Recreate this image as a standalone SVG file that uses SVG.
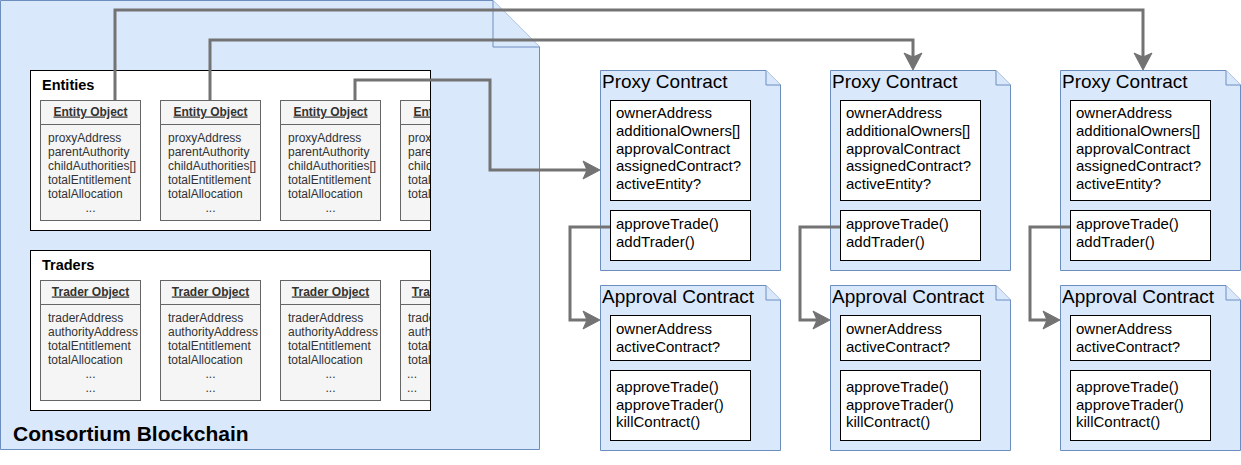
<svg xmlns="http://www.w3.org/2000/svg" width="1241" height="465" viewBox="0 0 1241 465">
<style>
.blue{fill:#dae8fc;stroke:#6c8ebf;stroke-width:1}
.wbox{fill:#ffffff;stroke:#000000;stroke-width:1}
.obj{fill:#f5f5f5;stroke:#666666;stroke-width:1}
.hl{stroke:#666666;stroke-width:1;fill:none}
.t{font-family:"Liberation Sans",Arial,sans-serif;fill:#000000}
.ot{font-family:"Liberation Sans",Arial,sans-serif;fill:#333333;font-size:12px}
.oh{font-family:"Liberation Sans",Arial,sans-serif;fill:#333333;font-size:12px;font-weight:bold;text-decoration:underline;text-anchor:middle}
.grp{font-family:"Liberation Sans",Arial,sans-serif;font-size:14.5px;font-weight:bold;fill:#000}
.ttl{font-family:"Liberation Sans",Arial,sans-serif;font-size:19px;fill:#000}
.ct{font-family:"Liberation Sans",Arial,sans-serif;font-size:15px;fill:#000}
.mid{text-anchor:middle}
.conn{fill:none;stroke:#737373;stroke-width:3}
</style>
<defs>
<marker id="arr" markerUnits="userSpaceOnUse" viewBox="-10 -10 22 20" refX="0" refY="0" markerWidth="22" markerHeight="20" orient="auto">
<path d="M10,0 L-7,-9 L-3,0 L-7,9 Z" fill="#737373" stroke="#737373" stroke-width="1"/>
</marker>
<clipPath id="clipE"><rect x="30" y="70" width="400" height="160"/></clipPath>
<clipPath id="clipT"><rect x="30" y="250" width="400" height="160"/></clipPath>
</defs>

<g id="consortium-blockchain">
<path class="blue" d="M0.5,0.5 H493 L539.5,47 V449.5 H0.5 Z"/>
<path class="blue" d="M493,0.5 V47 H539.5"/>
<text class="t" x="13" y="441" font-size="21px" font-weight="bold">Consortium Blockchain</text>
</g>

<g id="entities">
<rect class="wbox" x="30.5" y="70.5" width="400" height="160"/>
<text class="grp" x="42" y="90">Entities</text>
<g clip-path="url(#clipE)">
<g id="entity-object-1">
<rect class="obj" x="40.5" y="100.5" width="100" height="120"/>
<line class="hl" x1="40.5" y1="124.5" x2="140.5" y2="124.5"/>
<text class="oh" x="90.5" y="115.5">Entity Object</text>
<text class="ot" x="48" y="142">proxyAddress</text>
<text class="ot" x="48" y="156">parentAuthority</text>
<text class="ot" x="48" y="170">childAuthorities[]</text>
<text class="ot" x="48" y="184">totalEntitlement</text>
<text class="ot" x="48" y="198">totalAllocation</text>
<text class="ot mid" x="90.5" y="212">...</text>
</g>
<g id="entity-object-2">
<rect class="obj" x="160.5" y="100.5" width="100" height="120"/>
<line class="hl" x1="160.5" y1="124.5" x2="260.5" y2="124.5"/>
<text class="oh" x="210.5" y="115.5">Entity Object</text>
<text class="ot" x="168" y="142">proxyAddress</text>
<text class="ot" x="168" y="156">parentAuthority</text>
<text class="ot" x="168" y="170">childAuthorities[]</text>
<text class="ot" x="168" y="184">totalEntitlement</text>
<text class="ot" x="168" y="198">totalAllocation</text>
<text class="ot mid" x="210.5" y="212">...</text>
</g>
<g id="entity-object-3">
<rect class="obj" x="280.5" y="100.5" width="100" height="120"/>
<line class="hl" x1="280.5" y1="124.5" x2="380.5" y2="124.5"/>
<text class="oh" x="330.5" y="115.5">Entity Object</text>
<text class="ot" x="288" y="142">proxyAddress</text>
<text class="ot" x="288" y="156">parentAuthority</text>
<text class="ot" x="288" y="170">childAuthorities[]</text>
<text class="ot" x="288" y="184">totalEntitlement</text>
<text class="ot" x="288" y="198">totalAllocation</text>
<text class="ot mid" x="330.5" y="212">...</text>
</g>
<g id="entity-object-4">
<rect class="obj" x="400.5" y="100.5" width="100" height="120"/>
<line class="hl" x1="400.5" y1="124.5" x2="500.5" y2="124.5"/>
<text class="oh" x="450.5" y="115.5">Entity Object</text>
<text class="ot" x="408" y="142">proxyAddress</text>
<text class="ot" x="408" y="156">parentAuthority</text>
<text class="ot" x="408" y="170">childAuthorities[]</text>
<text class="ot" x="408" y="184">totalEntitlement</text>
<text class="ot" x="408" y="198">totalAllocation</text>
</g>
</g>
<rect x="30.5" y="70.5" width="400" height="160" fill="none" stroke="#000" stroke-width="1"/>
</g>

<g id="traders">
<rect class="wbox" x="30.5" y="250.5" width="400" height="160"/>
<text class="grp" x="42" y="270">Traders</text>
<g clip-path="url(#clipT)">
<g id="trader-object-1">
<rect class="obj" x="40.5" y="280.5" width="100" height="120"/>
<line class="hl" x1="40.5" y1="304.5" x2="140.5" y2="304.5"/>
<text class="oh" x="90.5" y="295.5">Trader Object</text>
<text class="ot" x="48" y="322">traderAddress</text>
<text class="ot" x="48" y="336">authorityAddress</text>
<text class="ot" x="48" y="350">totalEntitlement</text>
<text class="ot" x="48" y="364">totalAllocation</text>
<text class="ot mid" x="90.5" y="378">...</text>
<text class="ot mid" x="90.5" y="392">...</text>
</g>
<g id="trader-object-2">
<rect class="obj" x="160.5" y="280.5" width="100" height="120"/>
<line class="hl" x1="160.5" y1="304.5" x2="260.5" y2="304.5"/>
<text class="oh" x="210.5" y="295.5">Trader Object</text>
<text class="ot" x="168" y="322">traderAddress</text>
<text class="ot" x="168" y="336">authorityAddress</text>
<text class="ot" x="168" y="350">totalEntitlement</text>
<text class="ot" x="168" y="364">totalAllocation</text>
<text class="ot mid" x="210.5" y="378">...</text>
<text class="ot mid" x="210.5" y="392">...</text>
</g>
<g id="trader-object-3">
<rect class="obj" x="280.5" y="280.5" width="100" height="120"/>
<line class="hl" x1="280.5" y1="304.5" x2="380.5" y2="304.5"/>
<text class="oh" x="330.5" y="295.5">Trader Object</text>
<text class="ot" x="288" y="322">traderAddress</text>
<text class="ot" x="288" y="336">authorityAddress</text>
<text class="ot" x="288" y="350">totalEntitlement</text>
<text class="ot" x="288" y="364">totalAllocation</text>
<text class="ot mid" x="330.5" y="378">...</text>
<text class="ot mid" x="330.5" y="392">...</text>
</g>
<g id="trader-object-4">
<rect class="obj" x="400.5" y="280.5" width="100" height="120"/>
<line class="hl" x1="400.5" y1="304.5" x2="500.5" y2="304.5"/>
<text class="oh" x="450.5" y="295.5">Trader Object</text>
<text class="ot" x="408" y="322">traderAddress</text>
<text class="ot" x="408" y="336">authorityAddress</text>
<text class="ot" x="408" y="350">totalEntitlement</text>
<text class="ot" x="408" y="364">totalAllocation</text>
<text class="ot mid" x="412" y="378">...</text>
<text class="ot mid" x="412" y="392">...</text>
</g>
</g>
<rect x="30.5" y="250.5" width="400" height="160" fill="none" stroke="#000" stroke-width="1"/>
</g>

<g id="proxy-contract-1">
<path class="blue" d="M600.5,70.5 H766 L780.5,85 V270.5 H600.5 Z"/>
<path class="blue" d="M766,70.5 V85 H780.5"/>
<text class="ttl" x="602" y="88">Proxy Contract</text>
<rect class="wbox" x="610.5" y="100.5" width="140" height="100"/>
<text class="ct" x="616" y="118">ownerAddress</text>
<text class="ct" x="616" y="136">additionalOwners[]</text>
<text class="ct" x="616" y="153.5">approvalContract</text>
<text class="ct" x="616" y="171">assignedContract?</text>
<text class="ct" x="616" y="189">activeEntity?</text>
<rect class="wbox" x="610.5" y="210.5" width="140" height="50"/>
<text class="ct" x="616" y="229">approveTrade()</text>
<text class="ct" x="616" y="247">addTrader()</text>
</g>
<g id="approval-contract-1">
<path class="blue" d="M600.5,285.5 H766 L780.5,300 V450.5 H600.5 Z"/>
<path class="blue" d="M766,285.5 V300 H780.5"/>
<text class="ttl" x="602" y="303">Approval Contract</text>
<rect class="wbox" x="610.5" y="315.5" width="140" height="45"/>
<text class="ct" x="616" y="334">ownerAddress</text>
<text class="ct" x="616" y="352">activeContract?</text>
<rect class="wbox" x="610.5" y="370.5" width="140" height="70"/>
<text class="ct" x="616" y="392">approveTrade()</text>
<text class="ct" x="616" y="409.5">approveTrader()</text>
<text class="ct" x="616" y="427">killContract()</text>
</g>

<g id="proxy-contract-2">
<path class="blue" d="M830.5,70.5 H996 L1010.5,85 V270.5 H830.5 Z"/>
<path class="blue" d="M996,70.5 V85 H1010.5"/>
<text class="ttl" x="832" y="88">Proxy Contract</text>
<rect class="wbox" x="840.5" y="100.5" width="140" height="100"/>
<text class="ct" x="846" y="118">ownerAddress</text>
<text class="ct" x="846" y="136">additionalOwners[]</text>
<text class="ct" x="846" y="153.5">approvalContract</text>
<text class="ct" x="846" y="171">assignedContract?</text>
<text class="ct" x="846" y="189">activeEntity?</text>
<rect class="wbox" x="840.5" y="210.5" width="140" height="50"/>
<text class="ct" x="846" y="229">approveTrade()</text>
<text class="ct" x="846" y="247">addTrader()</text>
</g>
<g id="approval-contract-2">
<path class="blue" d="M830.5,285.5 H996 L1010.5,300 V450.5 H830.5 Z"/>
<path class="blue" d="M996,285.5 V300 H1010.5"/>
<text class="ttl" x="832" y="303">Approval Contract</text>
<rect class="wbox" x="840.5" y="315.5" width="140" height="45"/>
<text class="ct" x="846" y="334">ownerAddress</text>
<text class="ct" x="846" y="352">activeContract?</text>
<rect class="wbox" x="840.5" y="370.5" width="140" height="70"/>
<text class="ct" x="846" y="392">approveTrade()</text>
<text class="ct" x="846" y="409.5">approveTrader()</text>
<text class="ct" x="846" y="427">killContract()</text>
</g>

<g id="proxy-contract-3">
<path class="blue" d="M1060.5,70.5 H1226 L1240.5,85 V270.5 H1060.5 Z"/>
<path class="blue" d="M1226,70.5 V85 H1240.5"/>
<text class="ttl" x="1062" y="88">Proxy Contract</text>
<rect class="wbox" x="1070.5" y="100.5" width="140" height="100"/>
<text class="ct" x="1076" y="118">ownerAddress</text>
<text class="ct" x="1076" y="136">additionalOwners[]</text>
<text class="ct" x="1076" y="153.5">approvalContract</text>
<text class="ct" x="1076" y="171">assignedContract?</text>
<text class="ct" x="1076" y="189">activeEntity?</text>
<rect class="wbox" x="1070.5" y="210.5" width="140" height="50"/>
<text class="ct" x="1076" y="229">approveTrade()</text>
<text class="ct" x="1076" y="247">addTrader()</text>
</g>
<g id="approval-contract-3">
<path class="blue" d="M1060.5,285.5 H1226 L1240.5,300 V450.5 H1060.5 Z"/>
<path class="blue" d="M1226,285.5 V300 H1240.5"/>
<text class="ttl" x="1062" y="303">Approval Contract</text>
<rect class="wbox" x="1070.5" y="315.5" width="140" height="45"/>
<text class="ct" x="1076" y="334">ownerAddress</text>
<text class="ct" x="1076" y="352">activeContract?</text>
<rect class="wbox" x="1070.5" y="370.5" width="140" height="70"/>
<text class="ct" x="1076" y="392">approveTrade()</text>
<text class="ct" x="1076" y="409.5">approveTrader()</text>
<text class="ct" x="1076" y="427">killContract()</text>
</g>

<g id="connectors">
<path class="conn" marker-end="url(#arr)" d="M115,100 V10 H1143 V60"/>
<path class="conn" marker-end="url(#arr)" d="M210,100 V40 H913 V60"/>
<path class="conn" marker-end="url(#arr)" d="M355,100 V80 H490 V170 H590"/>
<path class="conn" marker-end="url(#arr)" d="M610,227 H570 V320 H590"/>
<path class="conn" marker-end="url(#arr)" d="M840,227 H800 V320 H820"/>
<path class="conn" marker-end="url(#arr)" d="M1070,227 H1030 V320 H1050"/>
</g>
</svg>
